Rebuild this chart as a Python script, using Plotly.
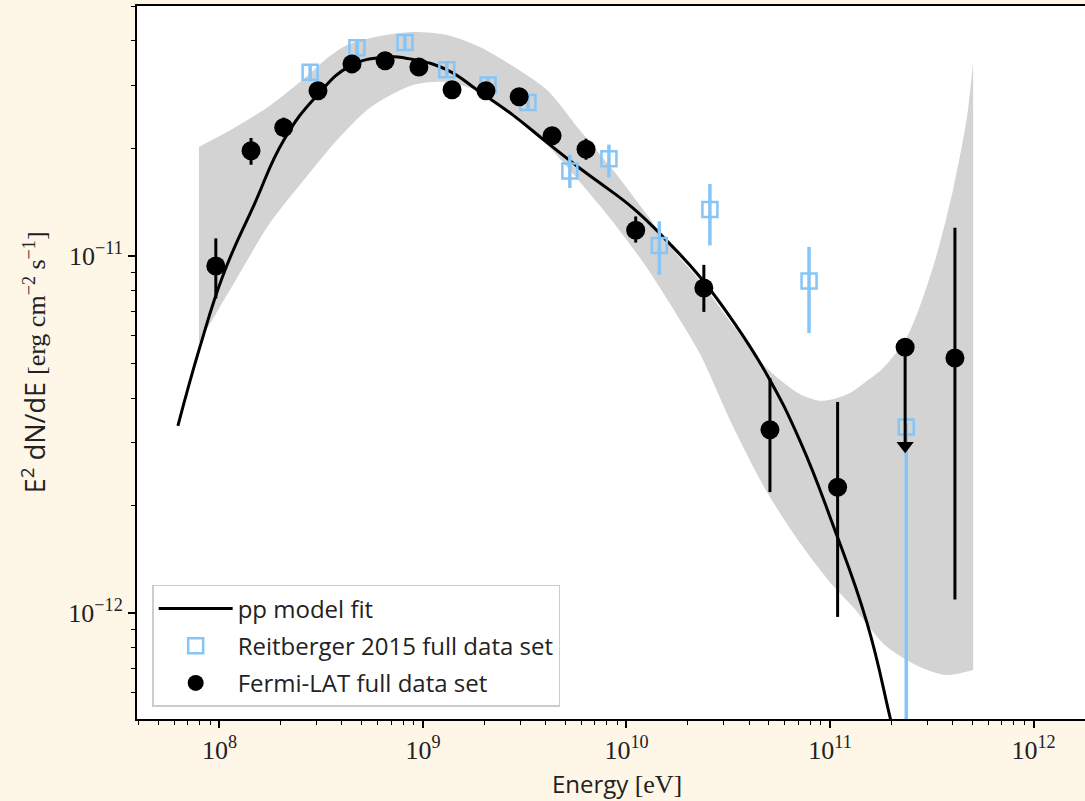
import plotly.graph_objects as go

# ---------------- data ----------------
fit_E = [6.25e7, 8.02e7, 1.052e8, 1.48e8, 2.07e8, 3.01e8, 4.38e8, 6.50e8,
         8.93e8, 1.312e9, 1.905e9, 2.77e9, 4.06e9, 5.90e9, 7.41e9, 1.077e10,
         1.58e10, 2.30e10, 3.33e10, 4.90e10, 7.13e10, 1.035e11, 1.52e11, 1.97e11, 2.21e11]
fit_F = [3.34e-12, 5.56e-12, 8.96e-12, 1.39e-11, 2.11e-11, 2.81e-11, 3.40e-11, 3.60e-11,
         3.55e-11, 3.32e-11, 2.88e-11, 2.48e-11, 2.08e-11, 1.76e-11, 1.60e-11, 1.361e-11,
         1.102e-11, 8.73e-12, 6.58e-12, 4.65e-12, 3.03e-12, 1.762e-12, 9.38e-13, 5.12e-13,
         3.87e-13]

band_lo_E = [7.93e7, 1.005e8, 1.22e8, 1.77e8, 2.60e8, 3.78e8, 5.50e8, 8.93e8, 1.312e9,
             1.905e9, 2.77e9, 4.06e9, 5.90e9, 8.59e9, 1.262e10, 1.832e10, 2.30e10, 3.33e10,
             4.90e10, 7.13e10, 1.035e11, 1.297e11, 1.905e11, 2.77e11, 3.76e11, 5.05e11]
band_lo_F = [5.70e-12, 7.19e-12, 8.67e-12, 1.236e-11, 1.633e-11, 2.11e-11, 2.60e-11, 3.01e-11,
             3.07e-11, 2.88e-11, 2.48e-11, 2.05e-11, 1.61e-11, 1.245e-11, 9.25e-12, 6.62e-12,
             5.31e-12, 3.34e-12, 2.18e-12, 1.57e-12, 1.191e-12, 1.04e-12, 8.04e-13, 7.06e-13,
             6.70e-13, 6.92e-13]
band_hi_E = [7.93e7, 1.164e8, 1.71e8, 2.49e8, 3.49e8, 4.24e8, 6.15e8, 8.93e8, 1.312e9,
             1.905e9, 2.77e9, 4.06e9, 5.90e9, 8.59e9, 1.262e10, 1.694e10, 2.30e10, 3.33e10,
             4.90e10, 7.13e10, 8.93e10, 1.035e11, 1.253e11, 1.52e11, 1.82e11, 2.39e11,
             3.21e11, 4.02e11, 4.71e11, 5.05e11]
band_hi_F = [2.02e-11, 2.27e-11, 2.60e-11, 3.07e-11, 3.63e-11, 3.90e-11, 4.13e-11, 4.24e-11,
             4.16e-11, 3.85e-11, 3.40e-11, 2.92e-11, 2.25e-11, 1.74e-11, 1.303e-11, 1.04e-11,
             8.51e-12, 6.41e-12, 4.85e-12, 4.10e-12, 3.93e-12, 3.97e-12, 4.13e-12, 4.47e-12,
             4.85e-12, 5.93e-12, 9.31e-12, 1.531e-11, 2.45e-11, 3.49e-11]

reit_E = [2.79e8, 4.74e8, 8.16e8, 1.31e9, 2.09e9, 3.28e9, 5.27e9, 8.20e9, 1.45e10, 2.57e10,
          7.89e10, 2.37e11]
reit_F = [3.27e-11, 3.83e-11, 3.96e-11, 3.32e-11, 3.01e-11, 2.69e-11, 1.73e-11, 1.87e-11,
          1.07e-11, 1.35e-11, 8.51e-12, 3.32e-12]
reit_hi = [3.45e-11, 4.04e-11, 4.18e-11, 3.50e-11, 3.18e-11, 2.84e-11, 1.92e-11, 2.05e-11,
           1.25e-11, 1.59e-11, 1.06e-11, 3.40e-12]
reit_lo = [3.10e-11, 3.63e-11, 3.75e-11, 3.15e-11, 2.85e-11, 2.55e-11, 1.55e-11, 1.66e-11,
           8.85e-12, 1.07e-11, 6.08e-12, 1e-14]

fermi_E = [9.6e7, 1.43e8, 2.07e8, 3.05e8, 4.48e8, 6.52e8, 9.55e8, 1.39e9, 2.04e9, 2.97e9,
           4.31e9, 6.33e9, 1.11e10, 2.40e10, 5.07e10, 1.09e11, 4.11e11]
fermi_F = [9.37e-12, 1.97e-11, 2.29e-11, 2.90e-11, 3.45e-11, 3.52e-11, 3.38e-11, 2.92e-11,
           2.90e-11, 2.79e-11, 2.17e-11, 1.99e-11, 1.18e-11, 8.13e-12, 3.26e-12, 2.25e-12,
           5.18e-12]
fermi_hi = [1.12e-11, 2.14e-11, 2.44e-11, 3.00e-11, 3.57e-11, 3.63e-11, 3.49e-11, 3.02e-11,
            3.00e-11, 2.89e-11, 2.26e-11, 2.13e-11, 1.29e-11, 9.44e-12, 4.55e-12, 3.90e-12,
            1.20e-11]
fermi_lo = [7.6e-12, 1.80e-11, 2.15e-11, 2.80e-11, 3.33e-11, 3.41e-11, 3.27e-11, 2.82e-11,
            2.80e-11, 2.69e-11, 2.08e-11, 1.86e-11, 1.09e-11, 6.97e-12, 2.18e-12, 9.75e-13,
            1.09e-12]

ul_E = [2.34e11]
ul_F = [5.55e-12]
ul_arrow_F = [2.94e-12]

x_tickvals = [1e8, 1e9, 1e10, 1e11, 1e12]
x_ticktext = ["10<sup>8</sup>", "10<sup>9</sup>", "10<sup>10</sup>", "10<sup>11</sup>", "10<sup>12</sup>"]
y_tickvals = [1e-12, 1e-11]
y_ticktext = ["10<sup>\u221212</sup>", "10<sup>\u221211</sup>"]

# ---------------- styling ----------------
BG = "#fef6e7"
BLUE = "#86c5f6"
SERIF = "Liberation Serif"
SANS = "Open Sans"

fig = go.Figure()

# uncertainty band
fig.add_trace(go.Scatter(x=band_lo_E, y=band_lo_F, mode="lines",
                         line=dict(width=0, color="#d3d3d3", shape="spline", smoothing=0.8),
                         showlegend=False, hoverinfo="skip"))
fig.add_trace(go.Scatter(x=band_hi_E, y=band_hi_F, mode="lines", fill="tonexty",
                         fillcolor="#d3d3d3",
                         line=dict(width=0, color="#d3d3d3", shape="spline", smoothing=0.8),
                         showlegend=False, hoverinfo="skip"))

# model fit
fig.add_trace(go.Scatter(x=fit_E, y=fit_F, mode="lines", name="pp model fit",
                         line=dict(color="black", width=3, shape="spline", smoothing=1.3),
                         legendgroup="a"))

# Reitberger
fig.add_trace(go.Scatter(
    x=reit_E, y=reit_F, mode="markers", name="Reitberger 2015 full data set",
    marker=dict(symbol="square-open", size=15, color=BLUE, line=dict(width=2.5, color=BLUE)),
    error_y=dict(type="data", symmetric=False,
                 array=[h - f for h, f in zip(reit_hi, reit_F)],
                 arrayminus=[f - l for f, l in zip(reit_F, reit_lo)],
                 color=BLUE, thickness=3.5, width=0),
    legendgroup="b"))

# Fermi-LAT upper limit
fig.add_trace(go.Scatter(
    x=ul_E, y=ul_F, mode="markers", showlegend=False,
    marker=dict(symbol="circle", size=19, color="black"),
    error_y=dict(type="data", symmetric=False, array=[0],
                 arrayminus=[f - a for f, a in zip(ul_F, ul_arrow_F)],
                 color="black", thickness=3, width=0)))
fig.add_trace(go.Scatter(
    x=ul_E, y=ul_arrow_F, mode="markers", showlegend=False,
    marker=dict(symbol="triangle-down", size=15, color="black")))

# Fermi-LAT
fig.add_trace(go.Scatter(
    x=fermi_E, y=fermi_F, mode="markers", name="Fermi-LAT full data set",
    marker=dict(symbol="circle", size=19, color="black"),
    error_y=dict(type="data", symmetric=False,
                 array=[h - f for h, f in zip(fermi_hi, fermi_F)],
                 arrayminus=[f - l for f, l in zip(fermi_F, fermi_lo)],
                 color="black", thickness=3, width=0),
    legendgroup="c"))

x_minor = [m * 10 ** e for e in range(7, 13) for m in range(2, 10)]
y_minor = [m * 10.0 ** e for e in range(-13, -10) for m in range(2, 10)]

fig.update_xaxes(type="log", range=[7.595, 12.253],
                 tickmode="array", tickvals=x_tickvals, ticktext=x_ticktext,
                 ticks="outside", ticklen=7, tickwidth=1.5, tickcolor="black",
                 minor=dict(tickmode="array", tickvals=x_minor, ticks="outside",
                            ticklen=4, tickwidth=1.2, tickcolor="black"),
                 showgrid=False, zeroline=False,
                 showline=True, linecolor="black", linewidth=2, mirror=True,
                 tickfont=dict(family=SERIF, size=26, color="#222"))
fig.update_yaxes(type="log", range=[-12.297, -10.300],
                 tickmode="array", tickvals=y_tickvals, ticktext=y_ticktext,
                 ticks="outside", ticklen=7, tickwidth=1.5, tickcolor="black",
                 minor=dict(tickmode="array", tickvals=y_minor, ticks="outside",
                            ticklen=4, tickwidth=1.2, tickcolor="black"),
                 showgrid=False, zeroline=False,
                 showline=True, linecolor="black", linewidth=2, mirror=False,
                 tickfont=dict(family=SERIF, size=26, color="#222"))

fig.add_annotation(
    text="Energy <span style='font-family:Liberation Serif;font-size:26px'>[eV]</span>",
    xref="paper", yref="paper", x=0.506, y=-0.09, xanchor="center", yanchor="middle",
    showarrow=False, font=dict(family=SANS, size=24, color="#222"))
fig.add_annotation(
    text="E<sup>2</sup> dN/dE <span style='font-family:Liberation Serif;font-size:26px'>[erg cm<sup>\u22122</sup> s<sup>\u22121</sup>]</span>",
    xref="paper", yref="paper", x=-0.109, y=0.5, xanchor="center", yanchor="middle",
    textangle=-90, showarrow=False, font=dict(family=SANS, size=27, color="#222"))

fig.update_layout(
    width=1085, height=801,
    margin=dict(l=137, r=0, t=6, b=82),
    paper_bgcolor=BG, plot_bgcolor="white",
    font=dict(family=SANS, color="#222"),
    legend=dict(x=0.016, y=0.188, xanchor="left", yanchor="top",
                bgcolor="rgba(255,255,255,0.85)", bordercolor="#cccccc", borderwidth=1.5,
                font=dict(family=SANS, size=24, color="#222"),
                traceorder="grouped", tracegroupgap=3, itemwidth=74),
)

fig.write_html("out.html")
